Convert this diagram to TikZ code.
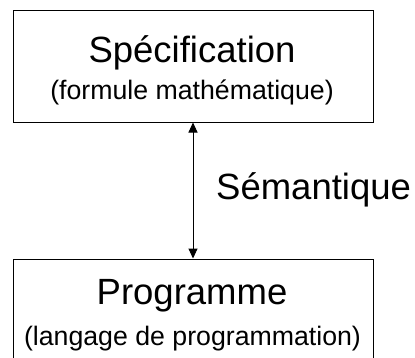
\documentclass[tikz,border=0pt]{standalone}
\usepackage{fontspec}
\setmainfont{Liberation Sans}
\usetikzlibrary{arrows.meta}
\begin{document}
\begin{tikzpicture}[x=1pt,y=-1pt,
  frame/.style={draw=black,line width=1pt,rectangle,inner sep=0pt},
  bigtext/.style={anchor=base,inner sep=0pt,font=\fontsize{36.5}{40}\selectfont},
  smalltext/.style={anchor=base,inner sep=0pt,font=\fontsize{26.7}{30}\selectfont},
  link/.style={line width=1pt,{Triangle[length=10pt,width=9pt]}-{Triangle[length=10pt,width=9pt]}}]
  \useasboundingbox (0,0) rectangle (415,357);
  \clip (0,0) rectangle (415,357);
  % boxes
  \node[frame,minimum width=360pt,minimum height=112pt] (spec) at (193,66) {};
  \node[frame,minimum width=360pt,minimum height=130pt] (prog) at (193,324) {};
  % labels
  \node[bigtext] (specT) at (192,62) {Spécification};
  \node[smalltext] (specS) at (192,99) {(formule mathématique)};
  \node[bigtext] (progT) at (192,304) {Programme};
  \node[smalltext] (progS) at (192.5,345) {(langage de programmation)};
  \node[bigtext,anchor=base west] (sem) at (216,199) {Sémantique};
  % link between the two levels
  \draw[link] (spec.south) -- (prog.north);
\end{tikzpicture}
\end{document}
